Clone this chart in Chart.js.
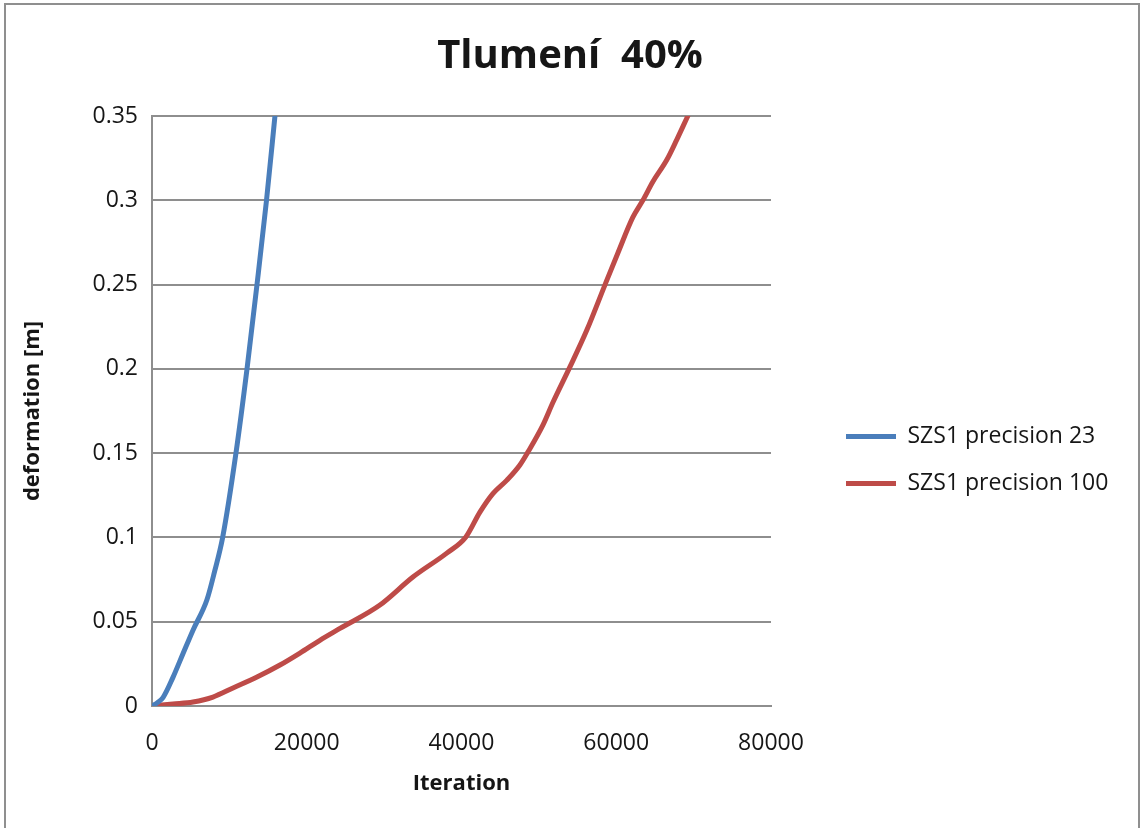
<!DOCTYPE html>
<html>
<head>
<meta charset="utf-8">
<title>Tlumení 40%</title>
<script src="https://cdn.jsdelivr.net/npm/chart.js@4/dist/chart.umd.min.js"></script>
<style>
  html, body { margin: 0; padding: 0; background: #ffffff; }
  #wrap { position: relative; width: 1140px; height: 828px; overflow: hidden; }
  #c { position: absolute; left: 0; top: 0; }
  #frame {
    position: absolute; left: 4px; top: 3px; width: 1132px; height: 900px;
    border: 2px solid #8f8f8f; pointer-events: none;
  }
</style>
</head>
<body>
<div id="wrap">
  <canvas id="c" width="1140" height="828"></canvas>
  <div id="frame"></div>
</div>
<script>
// Series: iteration count vs. deformation [m]
const iterPrecision23 = [0, 700, 1420, 2710, 4000, 5300, 7100, 8100, 9130, 10850, 12280, 13570, 14800, 15890];
const defPrecision23  = [0, 0.002, 0.005, 0.017, 0.031, 0.045, 0.063, 0.08, 0.1, 0.15, 0.2, 0.25, 0.3, 0.35];

const iterPrecision100 = [0, 2710, 5300, 7880, 10470, 13570, 16540, 19120, 21700, 24290, 29460, 33720, 38100,
                          40570, 42380, 44060, 45870, 47550, 48580, 50520, 51810, 54000, 56200, 58530, 60200,
                          62150, 63440, 64730, 66540, 67830, 69250];
const defPrecision100  = [0, 0.0012, 0.0024, 0.0053, 0.0107, 0.0172, 0.0243, 0.0314, 0.039, 0.046, 0.0599, 0.0765, 0.0907,
                          0.1003, 0.115, 0.126, 0.134, 0.143, 0.1506, 0.1666, 0.18, 0.201, 0.223, 0.2497, 0.2686,
                          0.29, 0.3, 0.311, 0.324, 0.336, 0.35];

const seriesNames = ['SZS1 precision 23', 'SZS1 precision 100'];

// Axis ticks
const xTicks = [0, 20000, 40000, 60000, 80000];
const xTickLabels = ['0', '20000', '40000', '60000', '80000'];
const yTicks = [0, 0.05, 0.1, 0.15, 0.2, 0.25, 0.3, 0.35];
const yTickLabels = ['0', '0.05', '0.1', '0.15', '0.2', '0.25', '0.3', '0.35'];

const FONT = "'Open Sans', 'Liberation Sans', sans-serif";
const TEXT = '#161616';
const GRID = '#8e8e8e';

const toPoints = (xs, ys) => xs.map((x, i) => ({ x: x, y: ys[i] }));

// Puts the legend block beside the plot and lets it run to the right edge
const LEGEND_LEFT = 846;
const LEGEND_TOP = 425;
const legendPlacement = {
  id: 'legendPlacement',
  afterLayout(chart) {
    const lg = chart.legend;
    if (!lg) return;
    const pad = lg.options.labels.padding;
    lg.left = LEGEND_LEFT - pad;
    lg.right = chart.width;
    lg.width = lg.right - lg.left;
    lg.top = LEGEND_TOP - pad;
    lg.bottom = chart.height;
    lg.height = lg.bottom - lg.top;
  }
};

new Chart(document.getElementById('c'), {
  type: 'line',
  data: {
    datasets: [
      {
        label: seriesNames[0],
        data: toPoints(iterPrecision23, defPrecision23),
        borderColor: '#4a7ebb',
        backgroundColor: '#4a7ebb',
        borderWidth: 5,
        borderCapStyle: 'round',
        borderJoinStyle: 'round',
        pointRadius: 0,
        pointStyle: 'line',
        cubicInterpolationMode: 'monotone',
        fill: false
      },
      {
        label: seriesNames[1],
        data: toPoints(iterPrecision100, defPrecision100),
        borderColor: '#be4b48',
        backgroundColor: '#be4b48',
        borderWidth: 5,
        borderCapStyle: 'round',
        borderJoinStyle: 'round',
        pointRadius: 0,
        pointStyle: 'line',
        cubicInterpolationMode: 'monotone',
        fill: false
      }
    ]
  },
  options: {
    responsive: false,
    animation: false,
    devicePixelRatio: 1,
    layout: { padding: 0 },
    plugins: {
      title: {
        display: true,
        text: 'Tlumení  40%',
        color: TEXT,
        font: { family: FONT, size: 40, weight: 'bold', lineHeight: 1.2 },
        padding: { top: 33, bottom: 35 }
      },
      legend: {
        display: true,
        position: 'right',
        align: 'start',
        fullSize: false,
        maxWidth: 100,
        labels: {
          usePointStyle: true,
          pointStyle: 'line',
          pointStyleWidth: 50,
          padding: 24,
          color: TEXT,
          font: { family: FONT, size: 23 }
        }
      },
      tooltip: { enabled: false }
    },
    scales: {
      x: {
        type: 'linear',
        position: 'bottom',
        min: 0,
        max: 80000,
        afterBuildTicks: s => { s.ticks = xTicks.map(v => ({ value: v })); },
        afterFit: s => { s.height = 122; },
        grid: { display: false, drawTicks: false },
        border: { display: true, color: GRID, width: 2 },
        ticks: {
          padding: 24,
          color: TEXT,
          font: { family: FONT, size: 23 },
          maxRotation: 0,
          callback: (v, i) => xTickLabels[i]
        },
        title: {
          display: true,
          text: 'Iteration',
          color: TEXT,
          font: { family: FONT, size: 22, weight: 'bold', lineHeight: 1.2 },
          padding: { top: 0, bottom: 31 }
        }
      },
      y: {
        type: 'linear',
        position: 'left',
        min: 0,
        max: 0.35,
        afterBuildTicks: s => { s.ticks = yTicks.map(v => ({ value: v })); },
        afterFit: s => { s.width = 152; },
        grid: { display: true, color: GRID, lineWidth: 2, drawTicks: false },
        border: { display: true, color: GRID, width: 2 },
        ticks: {
          padding: 14,
          color: TEXT,
          font: { family: FONT, size: 23 },
          callback: (v, i) => yTickLabels[i]
        },
        title: {
          display: true,
          text: 'deformation [m]',
          color: TEXT,
          font: { family: FONT, size: 22, weight: 'bold', lineHeight: 1.2 },
          padding: { top: 20, bottom: 0 }
        }
      },
      // empty margin between the plot and the legend
      gap: {
        type: 'linear',
        position: 'right',
        display: true,
        grid: { display: false },
        border: { display: false },
        ticks: { display: false },
        afterFit: s => { s.width = 269; }
      }
    }
  },
  plugins: [legendPlacement]
});
</script>
</body>
</html>
